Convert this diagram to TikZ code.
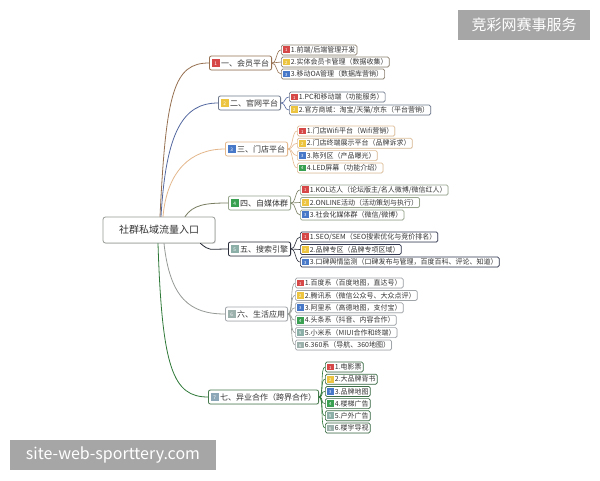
\documentclass[tikz,border=0pt]{standalone}
\usepackage{fontspec}
\setmainfont{Noto Sans CJK SC}
\usetikzlibrary{shadows}
\definecolor{tx}{RGB}{51,51,51}
% Markenfarben
\definecolor{k1}{RGB}{214,72,72}
\definecolor{k2}{RGB}{236,196,64}
\definecolor{k3}{RGB}{72,120,200}
\definecolor{k4}{RGB}{56,160,80}
\definecolor{k5}{RGB}{140,176,168}
\definecolor{k6}{RGB}{156,176,172}
\definecolor{k7}{RGB}{140,168,184}
% Astfarben
\definecolor{a1}{RGB}{150,112,80}
\definecolor{a2}{RGB}{84,104,160}
\definecolor{a3}{RGB}{228,184,140}
\definecolor{a4}{RGB}{120,124,96}
\definecolor{a5}{RGB}{40,44,56}
\definecolor{a6}{RGB}{150,154,150}
\definecolor{a7}{RGB}{46,120,56}
% Blattrahmen
\definecolor{l1}{RGB}{140,128,112}
\definecolor{l2}{RGB}{110,120,140}
\definecolor{l3}{RGB}{222,190,152}
\definecolor{l4}{RGB}{150,165,140}
\definecolor{l5}{RGB}{50,56,80}
\definecolor{l6}{RGB}{160,165,170}
\definecolor{l7}{RGB}{60,110,70}
\definecolor{wm}{RGB}{166,166,166}
\newcommand{\nr}[2]{\textcolor{#1}{\rule[-0.1em]{0.95em}{0.95em}}\kern-0.95em\makebox[0.95em]{\raisebox{0.08em}{\color{white}\scalebox{0.6}{#2}}}\hspace{0.2em}}
\tikzset{
  every picture/.style={tx, line cap=round, line join=round},
  % Kästen
  wurzel/.style={draw=a6, fill=white, rounded corners=2.5pt, line width=0.8pt,
    minimum width=112, minimum height=26, font=\fontsize{10}{12}\selectfont,
    drop shadow={shadow xshift=0.8pt, shadow yshift=-0.8pt, opacity=0.25}},
  ast/.style={draw=#1, fill=white, rounded corners=2pt, line width=0.8pt, anchor=west,
    inner xsep=2.5pt, inner ysep=1pt, minimum height=14, font=\fontsize{8}{9}\selectfont,
    drop shadow={shadow xshift=0.6pt, shadow yshift=-0.6pt, opacity=0.2}},
  blatt/.style={draw=#1, fill=white, rounded corners=1.5pt, line width=0.7pt, anchor=west,
    inner xsep=1.5pt, inner ysep=0.5pt, minimum height=10, font=\fontsize{7}{8}\selectfont,
    drop shadow={shadow xshift=0.5pt, shadow yshift=-0.5pt, opacity=0.2}},
  % Linien
  kante/.style={draw=#1, line width=0.8pt},
  zweig/.style={draw=#1, line width=0.6pt},
  marke/.style={fill=wm, text=white, inner sep=0pt},
}
\begin{document}
\begin{tikzpicture}[x=1pt, y=-1pt]
  \useasboundingbox[fill=white] (0,0) rectangle (600,480);
  % Wurzel und erste Ebene
  \node[wurzel] (root) at (159,230) {社群私域流量入口};
  \node[ast=a1] (m1) at (209,63)  {\nr{k1}{1}一、会员平台};
  \node[ast=l2] (m2) at (218,103) {\nr{k2}{2}二、官网平台};
  \node[ast=a3] (m3) at (225,149) {\nr{k3}{3}三、门店平台};
  \node[ast=l4] (m4) at (228,203) {\nr{k4}{4}四、自媒体群};
  \node[ast=a5] (m5) at (228,249) {\nr{k5}{5}五、搜索引擎};
  \node[ast=l6] (m6) at (225,314) {\nr{k6}{6}六、生活应用};
  \node[ast=a7!70!gray] (m7) at (208,397) {\nr{k7}{7}七、异业合作（跨界合作）};
  % Kanten von der Wurzel
  \draw[kante=a1] ([xshift=1pt]root.north) .. controls +(6,-125) and +(-35,0) .. (m1.west);
  \draw[kante=a2] ([xshift=2pt]root.north) .. controls +(5,-85) and +(-35,0) .. (m2.west);
  \draw[kante=a3] ([xshift=4pt]root.north) .. controls +(4,-45) and +(-35,0) .. (m3.west);
  \draw[kante=a4] ([xshift=26pt]root.north) .. controls +(8,-12) and +(-22,0) .. (m4.west);
  \draw[kante=a5] ([xshift=-15pt]root.south east) .. controls +(10,8) and +(-20,0) .. (m5.west);
  \draw[kante=a6] ([xshift=5pt]root.south) .. controls +(6,55) and +(-35,0) .. (m6.west);
  \draw[kante=a7] ([xshift=-1pt]root.south) .. controls +(4,125) and +(-35,0) .. (m7.west);
  % Blätter: Gruppe 1
  \foreach \t [count=\i] in {{1.前端/后端管理开发},{2.实体会员卡管理（数据收集）},{3.移动OA管理（数据库营销）}} {
    \node[blatt=l1] (b1-\i) at (281,{50+12*(\i-1)}) {\nr{k\i}{\i}\t};
    \draw[zweig=a1] (m1.east) .. controls +(5,0) and +(-5,0) .. (b1-\i.west);
  }
  % Gruppe 2
  \foreach \t [count=\i] in {{1.PC和移动端（功能服务）},{2.官方商城：淘宝/天猫/京东（平台营销）}} {
    \node[blatt=l2] (b2-\i) at (289,{97+13*(\i-1)}) {\nr{k\i}{\i}\t};
    \draw[zweig=a2] (m2.east) .. controls +(5,0) and +(-5,0) .. (b2-\i.west);
  }
  % Gruppe 3
  \foreach \t [count=\i] in {{1.门店Wifi平台（Wifi营销）},{2.门店终端展示平台（品牌诉求）},{3.陈列区（产品曝光）},{4.LED屏幕（功能介绍）}} {
    \node[blatt=l3] (b3-\i) at (297,{131+12.3*(\i-1)}) {\nr{k\i}{\i}\t};
    \draw[zweig=a3] (m3.east) .. controls +(5,0) and +(-5,0) .. (b3-\i.west);
  }
  % Gruppe 4
  \foreach \t [count=\i] in {{1.KOL达人（论坛版主/名人微博/微信红人）},{2.ONLINE活动（活动策划与执行）},{3.社会化媒体群（微信/微博）}} {
    \node[blatt=l4] (b4-\i) at (300,{190+12.5*(\i-1)}) {\nr{k\i}{\i}\t};
    \draw[zweig=a4] (m4.east) .. controls +(5,0) and +(-5,0) .. (b4-\i.west);
  }
  % Gruppe 5
  \foreach \t [count=\i] in {{1.SEO/SEM（SEO搜索优化与竞价排名）},{2.品牌专区（品牌专项区域）},{3.口碑舆情监测（口碑发布与管理，百度百科、评论、知道）}} {
    \node[blatt=l5] (b5-\i) at (300,{237+12.5*(\i-1)}) {\nr{k\i}{\i}\t};
    \draw[zweig=a5] (m5.east) .. controls +(5,0) and +(-5,0) .. (b5-\i.west);
  }
  % Gruppe 6
  \foreach \t [count=\i] in {{1.百度系（百度地图，直达号）},{2.腾讯系（微信公众号、大众点评）},{3.阿里系（高德地图，支付宝）},{4.头条系（抖音、内容合作）},{5.小米系（MIUI合作和终端）},{6.360系（导航、360地图）}} {
    \node[blatt=l6] (b6-\i) at (295,{283+12.4*(\i-1)}) {\nr{k\i}{\i}\t};
    \draw[zweig=a6] (m6.east) .. controls +(5,0) and +(-5,0) .. (b6-\i.west);
  }
  % Gruppe 7
  \foreach \t [count=\i] in {{1.电影票},{2.大品牌背书},{3.品牌地图},{4.楼梯广告},{5.户外广告},{6.楼宇导视}} {
    \node[blatt=l7] (b7-\i) at (325,{367+12.2*(\i-1)}) {\nr{k\i}{\i}\t};
    \draw[zweig=a7] (m7.east) .. controls +(5,0) and +(-5,0) .. (b7-\i.west);
  }
  % Wasserzeichen
  \node[marke, minimum width=132, minimum height=30, font=\fontsize{15}{16}\selectfont] (wm1) at (524,25) {竞彩网赛事服务};
  \node[marke, minimum width=206, minimum height=30, font=\fontsize{16}{17}\selectfont] (wm2) at (113,455) {site-web-sporttery.com};
\end{tikzpicture}
\end{document}
